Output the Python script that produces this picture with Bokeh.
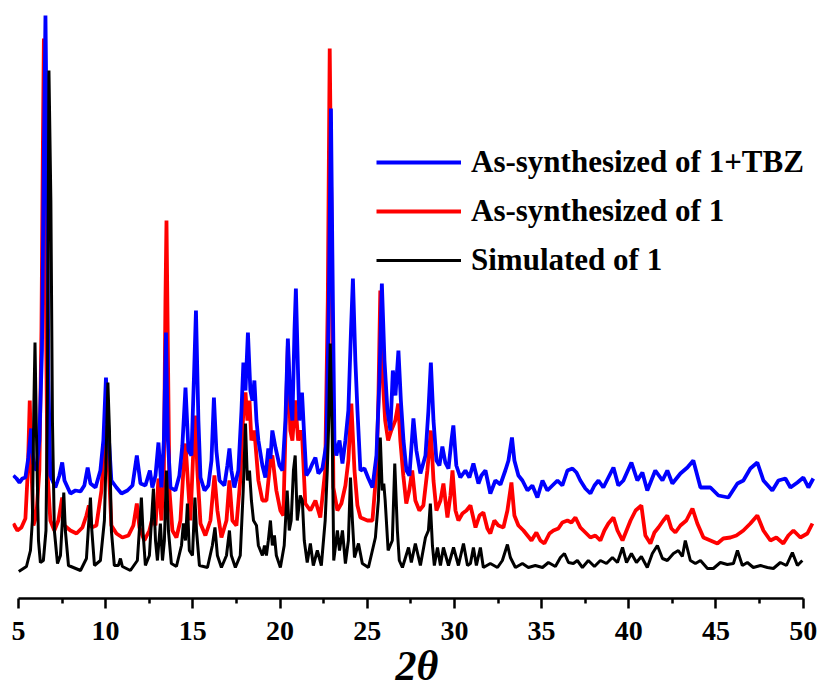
from bokeh.plotting import figure
from bokeh.models import Range1d, FixedTicker, Legend, LegendItem
from bokeh.embed import file_html
from bokeh.resources import INLINE

# (2theta, stacked intensity in a.u.)
blue_pattern = [
    (4.71,123),(4.89,120),(5.06,116),(5.23,120),(5.40,121),(5.57,141),(5.73,170),(5.86,135),(6.03,128),(6.20,158),
    (6.35,248),(6.46,448),(6.55,583),(6.63,448),(6.72,218),(6.83,123),(7.12,111),(7.35,123),(7.51,136),(7.64,118),
    (7.98,105),(8.27,108),(8.56,107),(8.78,113),(8.97,131),(9.13,115),(9.42,111),(9.70,128),(9.87,158),(10.02,221),
    (10.16,168),(10.33,118),(10.62,111),(10.91,105),(11.25,108),(11.54,113),(11.79,143),(12.00,115),(12.28,113),(12.54,128),
    (12.68,111),(12.86,123),(13.03,156),(13.20,111),(13.34,158),(13.46,266),(13.57,158),(13.72,111),(14.00,108),(14.23,123),
    (14.40,153),(14.58,211),(14.75,148),(14.92,143),(15.06,218),(15.18,288),(15.32,178),(15.44,121),(15.67,108),(15.89,113),
    (16.07,138),(16.21,201),(16.35,148),(16.53,118),(16.81,113),(16.98,133),(17.10,150),(17.21,128),(17.38,111),(17.61,128),
    (17.79,188),(17.90,236),(18.02,208),(18.16,266),(18.30,208),(18.42,198),(18.53,218),(18.65,178),(18.76,158),(18.99,133),
    (19.16,121),(19.33,150),(19.45,140),(19.56,168),(19.74,151),(19.97,133),(20.14,128),(20.31,178),(20.45,260),(20.59,198),
    (20.71,178),(20.83,268),(20.91,310),(21.03,228),(21.11,178),(21.26,206),(21.40,158),(21.51,123),(21.69,128),(21.86,135),
    (22.03,141),(22.20,125),(22.43,130),(22.66,155),(22.80,298),(22.92,490),(23.00,348),(23.12,158),(23.23,143),(23.41,158),
    (23.58,135),(23.75,158),(23.92,188),(24.07,268),(24.18,320),(24.32,238),(24.44,188),(24.61,128),(24.84,130),(25.07,120),
    (25.30,111),(25.53,143),(25.70,218),(25.84,315),(25.99,238),(26.16,188),(26.33,168),(26.47,228),(26.62,203),(26.79,248),
    (26.93,198),(27.08,158),(27.25,128),(27.42,123),(27.65,180),(27.82,148),(28.05,125),(28.34,143),(28.51,188),(28.65,236),
    (28.80,178),(28.97,138),(29.14,133),(29.31,152),(29.48,136),(29.66,130),(29.83,158),(29.94,173),(30.11,133),(30.34,121),
    (30.63,128),(30.86,121),(31.09,135),(31.38,115),(31.55,123),(31.78,128),(32.06,105),(32.35,118),(32.64,114),(32.92,128),
    (33.10,138),(33.30,161),(33.44,138),(33.67,123),(33.90,118),(34.19,108),(34.47,113),(34.76,101),(35.05,118),(35.33,108),
    (35.62,113),(35.91,118),(36.19,113),(36.48,128),(36.77,130),(37.00,126),(37.22,118),(37.51,110),(37.80,105),(38.03,113),
    (38.26,118),(38.54,111),(38.83,121),(39.12,131),(39.40,113),(39.69,118),(40.15,136),(40.49,118),(40.78,126),(41.06,108),
    (41.52,128),(41.93,118),(42.21,128),(42.50,115),(42.96,125),(43.36,131),(43.70,138),(44.11,111),(44.68,111),(45.14,103),
    (45.71,101),(46.23,115),(46.57,118),(46.97,130),(47.37,136),(47.72,118),(48.23,108),(48.58,118),(48.98,120),(49.27,111),
    (49.67,116),(50.01,121),(50.30,111),(50.58,120),
]

red_pattern = [
    (4.71,75),(4.94,68),(5.17,71),(5.40,80),(5.54,128),(5.65,198),(5.75,128),(5.86,73),(6.03,83),(6.20,128),
    (6.32,268),(6.40,448),(6.46,560),(6.55,348),(6.66,128),(6.83,78),(7.06,68),(7.29,78),(7.51,101),(7.64,73),
    (7.98,68),(8.33,65),(8.67,71),(8.90,83),(9.04,93),(9.19,71),(9.47,73),(9.76,108),(9.93,158),(10.05,173),
    (10.16,138),(10.33,73),(10.62,65),(10.96,61),(11.31,63),(11.59,73),(11.79,95),(11.94,71),(12.22,58),(12.51,68),
    (12.68,80),(12.86,73),(13.03,120),(13.20,78),(13.34,128),(13.43,298),(13.49,378),(13.57,248),(13.66,108),(13.83,68),
    (14.06,61),(14.29,78),(14.46,128),(14.58,155),(14.75,108),(14.86,78),(15.03,148),(15.15,183),(15.26,128),(15.44,75),
    (15.72,63),(16.01,78),(16.24,123),(16.41,88),(16.64,61),(16.93,78),(17.10,118),(17.27,78),(17.50,73),(17.72,118),
    (17.90,188),(18.02,206),(18.13,178),(18.25,198),(18.36,158),(18.53,168),(18.76,118),(18.99,98),(19.22,98),(19.45,138),
    (19.56,143),(19.79,108),(20.02,88),(20.19,83),(20.30,158),(20.45,253),(20.59,168),(20.71,158),(20.87,198),(21.04,158),
    (21.16,168),(21.28,158),(21.45,95),(21.74,88),(22.03,98),(22.31,81),(22.59,128),(22.74,298),(22.85,550),(22.94,398),
    (23.06,111),(23.29,88),(23.52,95),(23.75,113),(23.92,138),(24.09,195),(24.27,128),(24.44,93),(24.61,81),(25.01,78),
    (25.30,78),(25.53,128),(25.64,198),(25.75,308),(25.86,228),(26.03,178),(26.20,158),(26.38,168),(26.61,178),(26.78,195),
    (26.90,158),(27.07,123),(27.24,95),(27.41,108),(27.58,128),(27.76,98),(27.99,88),(28.22,93),(28.45,128),(28.65,168),
    (28.80,118),(28.97,88),(29.20,98),(29.37,115),(29.60,81),(29.77,103),(29.89,128),(30.06,88),(30.23,78),(30.46,85),
    (30.69,88),(30.92,93),(31.21,71),(31.44,83),(31.66,86),(31.89,70),(32.06,65),(32.29,78),(32.52,73),(32.81,71),
    (33.04,88),(33.27,116),(33.44,83),(33.67,73),(33.96,68),(34.19,63),(34.42,58),(34.70,66),(34.93,58),(35.16,55),
    (35.45,65),(35.68,68),(35.96,70),(36.19,76),(36.48,78),(36.71,76),(36.94,81),(37.22,71),(37.51,66),(37.80,61),
    (38.08,63),(38.37,58),(38.60,68),(38.83,75),(39.12,81),(39.35,68),(39.64,58),(39.87,68),(40.10,78),(40.39,88),
    (40.72,93),(40.95,63),(41.24,55),(41.47,66),(41.70,71),(41.98,78),(42.21,83),(42.44,70),(42.67,66),(42.96,73),
    (43.30,78),(43.65,90),(43.93,75),(44.28,61),(44.68,58),(45.08,55),(45.42,60),(45.83,61),(46.17,63),(46.57,68),
    (46.97,75),(47.37,83),(47.72,68),(48.12,58),(48.46,61),(48.86,55),(49.15,63),(49.44,68),(49.84,61),(50.24,65),
    (50.53,75),
]

black_pattern = [
    (5.02,27),(5.46,32),(5.69,48),(5.80,78),(5.89,198),(5.95,256),(6.03,168),(6.15,58),(6.26,36),(6.43,38),
    (6.58,68),(6.66,198),(6.75,528),(6.86,398),(6.95,178),(7.06,68),(7.24,35),(7.41,43),(7.52,78),(7.60,106),
    (7.69,68),(7.87,33),(8.56,28),(8.90,40),(9.04,78),(9.13,101),(9.21,68),(9.36,33),(9.70,38),(9.93,78),
    (10.05,158),(10.13,216),(10.22,168),(10.33,68),(10.50,33),(10.73,33),(10.85,40),(10.96,32),(11.42,28),(11.82,38),
    (11.97,78),(12.05,101),(12.14,68),(12.28,33),(12.51,43),(12.63,78),(12.74,110),(12.86,58),(12.97,38),(13.14,75),
    (13.26,38),(13.37,58),(13.49,128),(13.60,68),(13.77,35),(14.06,32),(14.35,53),(14.46,75),(14.58,58),(14.69,95),
    (14.80,48),(14.98,43),(15.12,101),(15.21,68),(15.38,33),(15.84,31),(16.12,53),(16.27,71),(16.41,43),(16.64,31),
    (16.93,43),(17.10,68),(17.21,43),(17.44,31),(17.72,43),(17.89,108),(18.02,175),(18.13,118),(18.25,128),(18.36,98),
    (18.48,78),(18.65,73),(18.76,53),(18.99,43),(19.11,53),(19.22,43),(19.33,58),(19.45,78),(19.56,53),(19.68,63),
    (19.79,43),(20.02,31),(20.24,53),(20.41,108),(20.53,68),(20.64,78),(20.77,128),(20.87,143),(20.99,78),(21.16,103),
    (21.28,98),(21.39,58),(21.56,36),(21.74,55),(21.91,33),(22.14,48),(22.37,33),(22.59,78),(22.71,128),(22.78,168),
    (22.88,255),(23.00,158),(23.08,38),(23.29,68),(23.41,48),(23.58,68),(23.75,35),(23.92,58),(24.04,121),(24.15,78),
    (24.27,41),(24.50,55),(24.72,35),(25.07,31),(25.47,61),(25.64,98),(25.75,161),(25.86,108),(25.95,115),(26.03,98),
    (26.20,48),(26.44,58),(26.58,135),(26.73,68),(26.84,38),(27.02,31),(27.37,51),(27.53,36),(27.76,55),(28.05,33),
    (28.34,61),(28.51,68),(28.62,95),(28.74,53),(28.85,33),(29.03,51),(29.20,33),(29.37,51),(29.66,33),(29.95,51),
    (30.23,33),(30.52,55),(30.75,33),(30.92,35),(31.09,51),(31.26,33),(31.49,51),(31.66,31),(32.06,35),(32.47,31),
    (32.75,38),(33.04,54),(33.21,41),(33.50,31),(33.90,35),(34.24,31),(34.64,33),(35.05,31),(35.39,36),(35.79,32),
    (36.08,41),(36.31,45),(36.54,36),(36.82,35),(37.05,38),(37.34,31),(37.68,38),(38.03,32),(38.37,38),(38.72,35),
    (39.06,41),(39.35,36),(39.64,51),(39.87,36),(40.15,45),(40.44,36),(40.72,42),(41.06,31),(41.35,45),(41.64,53),
    (41.93,40),(42.21,38),(42.56,45),(42.84,48),(43.07,42),(43.24,58),(43.53,38),(43.82,35),(44.11,38),(44.51,30),
    (44.85,30),(45.25,36),(45.65,34),(46.00,35),(46.23,48),(46.51,33),(46.80,36),(47.14,31),(47.55,33),(47.95,31),
    (48.29,30),(48.69,36),(49.04,33),(49.38,46),(49.67,33),(49.95,38),
]

series_labels = ["As-synthesized of 1+TBZ", "As-synthesized of 1", "Simulated of 1"]
x_ticks = [5, 10, 15, 20, 25, 30, 35, 40, 45, 50]
x_minor_ticks = [7.5, 12.5, 17.5, 22.5, 27.5, 32.5, 37.5, 42.5, 47.5]

blue_x, blue_y = zip(*blue_pattern)
red_x, red_y = zip(*red_pattern)
black_x, black_y = zip(*black_pattern)

p = figure(frame_width=809, frame_height=594, output_backend="svg", toolbar_location=None,
           x_range=Range1d(4.66, 51.05), y_range=Range1d(0, 594),
           y_axis_location=None,
           min_border_left=12, min_border_right=0, min_border_top=4, min_border_bottom=0)
p.xgrid.visible = False
p.ygrid.visible = False
p.outline_line_color = None
p.background_fill_color = "white"

red_r = p.line(list(red_x), list(red_y), line_color="#ff0000", line_width=3.8)
blue_r = p.line(list(blue_x), list(blue_y), line_color="#0000ff", line_width=3.8)
black_r = p.line(list(black_x), list(black_y), line_color="#000000", line_width=3.0)

ax = p.xaxis[0]
ax.bounds = (5, 50)
ax.ticker = FixedTicker(ticks=x_ticks, minor_ticks=x_minor_ticks)
ax.axis_line_width = 2.5
ax.major_tick_line_width = 2.5
ax.minor_tick_line_width = 2.5
ax.major_tick_in = 0
ax.major_tick_out = 10
ax.minor_tick_in = 0
ax.minor_tick_out = 5
ax.major_label_text_font = "Liberation Serif"
ax.major_label_text_font_style = "bold"
ax.major_label_text_font_size = "28px"
ax.major_label_text_color = "black"
ax.major_label_standoff = 13
ax.axis_label = "2θ"
ax.axis_label_text_font = "Liberation Serif"
ax.axis_label_text_font_style = "bold italic"
ax.axis_label_text_font_size = "42px"
ax.axis_label_text_color = "black"
ax.axis_label_standoff = 0

legend = Legend(items=[
    LegendItem(label=series_labels[0], renderers=[blue_r]),
    LegendItem(label=series_labels[1], renderers=[red_r]),
    LegendItem(label=series_labels[2], renderers=[black_r]),
], location=(364, 320))
legend.border_line_color = None
legend.background_fill_alpha = 0
legend.padding = 0
legend.margin = 0
legend.glyph_width = 85
legend.glyph_height = 34
legend.label_height = 34
legend.spacing = 13
legend.label_standoff = 10
legend.label_text_font = "Liberation Serif"
legend.label_text_font_style = "bold"
legend.label_text_font_size = "31px"
legend.label_text_color = "black"
p.add_layout(legend)

open("out.html", "w").write(file_html(p, INLINE))
